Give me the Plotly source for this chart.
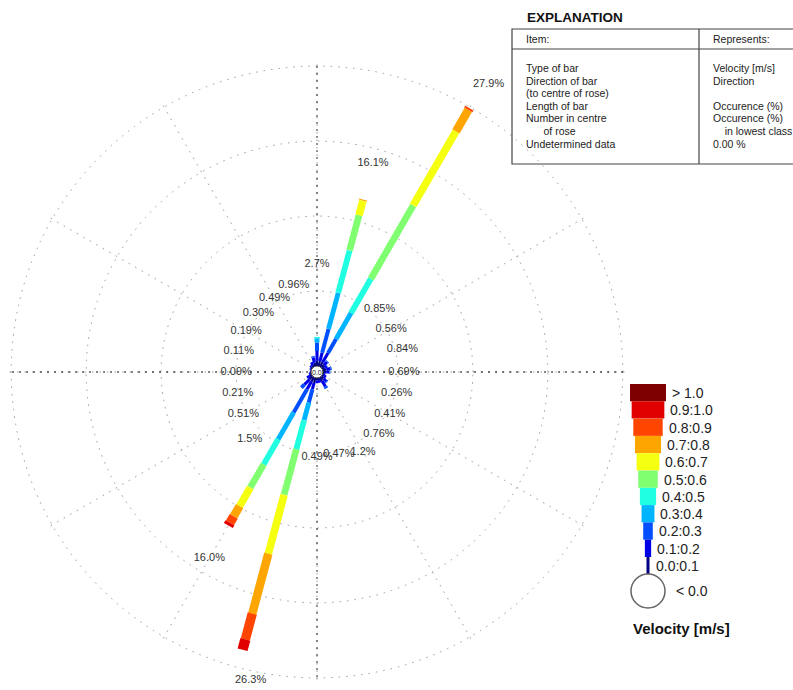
import math
import plotly.graph_objects as go

# Page size; all positions below are in page pixels, converted by px()/py()
W, H = 793, 690

# Rose geometry (page pixels)
CX, CY = 317, 372
HOLE_PX = 6
R_MAX = 28.3
R = 309

# Directions of the bars (degrees, clockwise from north)
directions = list(range(0, 360, 15))

# Total occurrence per direction (%)
totals = [2.7, 16.1, 27.9, 0.85, 0.56, 0.84, 0.69, 0.26, 0.41, 0.76, 1.2, 0.47,
          0.49, 26.3, 16.0, 1.5, 0.51, 0.21, 0.09, 0.11, 0.19, 0.30, 0.49, 0.96]

# Occurrence (%) per velocity class and direction
v_00_01 = [0.5, 0.5, 0.5, 0.35, 0.25, 0.35, 0.3, 0.12, 0.2, 0.3, 0.4, 0.22,
           0.2, 0.5, 0.5, 0.4, 0.22, 0.1, 0.05, 0.06, 0.1, 0.15, 0.2, 0.35]
v_01_02 = [0.9, 0.8, 1.0, 0.4, 0.25, 0.39, 0.3, 0.14, 0.21, 0.36, 0.6, 0.25,
           0.29, 0.6, 0.8, 0.7, 0.29, 0.11, 0.04, 0.05, 0.09, 0.15, 0.29, 0.51]
v_02_03 = [0.8, 2.3, 1.5, 0.1, 0.06, 0.1, 0.09, 0, 0, 0.1, 0.2, 0,
           0, 1.3, 2.5, 0.4, 0, 0, 0, 0, 0, 0, 0, 0.1]
v_03_04 = [0.4, 3.5, 2.8, 0, 0, 0, 0, 0, 0, 0, 0, 0,
           0, 1.7, 2.9, 0, 0, 0, 0, 0, 0, 0, 0, 0]
v_04_05 = [0.1, 4.1, 3.7, 0, 0, 0, 0, 0, 0, 0, 0, 0,
           0, 2.8, 2.7, 0, 0, 0, 0, 0, 0, 0, 0, 0]
v_05_06 = [0, 3.4, 7.9, 0, 0, 0, 0, 0, 0, 0, 0, 0,
           0, 4.4, 2.5, 0, 0, 0, 0, 0, 0, 0, 0, 0]
v_06_07 = [0, 1.4, 8.0, 0, 0, 0, 0, 0, 0, 0, 0, 0,
           0, 5.7, 2.0, 0, 0, 0, 0, 0, 0, 0, 0, 0]
v_07_08 = [0, 0.1, 2.3, 0, 0, 0, 0, 0, 0, 0, 0, 0,
           0, 5.8, 1.1, 0, 0, 0, 0, 0, 0, 0, 0, 0]
v_08_09 = [0, 0, 0.2, 0, 0, 0, 0, 0, 0, 0, 0, 0,
           0, 2.5, 0.7, 0, 0, 0, 0, 0, 0, 0, 0, 0]
v_09_10 = [0, 0, 0, 0, 0, 0, 0, 0, 0, 0, 0, 0,
           0, 1.0, 0.3, 0, 0, 0, 0, 0, 0, 0, 0, 0]
v_10_up = [0, 0, 0, 0, 0, 0, 0, 0, 0, 0, 0, 0,
           0, 0, 0, 0, 0, 0, 0, 0, 0, 0, 0, 0]

classes = [v_00_01, v_01_02, v_02_03, v_03_04, v_04_05, v_05_06,
           v_06_07, v_07_08, v_08_09, v_09_10, v_10_up]
class_labels = ['0.0:0.1', '0.1:0.2', '0.2:0.3', '0.3:0.4', '0.4:0.5', '0.5:0.6',
                '0.6:0.7', '0.7:0.8', '0.8:0.9', '0.9:1.0', '> 1.0']
class_colors = ['#000080', '#0000E6', '#0050FF', '#00B4FF', '#20FFE0', '#80FF70',
                '#F5FF10', '#FFA500', '#FF4500', '#E00000', '#7F0000']

# Explanation table text
expl_items = ['Type of bar', 'Direction of bar', '(to centre of rose)', 'Length of bar',
              'Number in centre', '      of rose', 'Undetermined data']
expl_repr = ['Velocity [m/s]', 'Direction', '', 'Occurence (%)',
             'Occurence (%)', '    in lowest class', '0.00 %']


def px(x):
    return x / W


def py(y):
    return 1 - y / H


def nb(s):
    # keep leading spaces (indent) in annotations
    stripped = s.lstrip(' ')
    return '&nbsp;' * (len(s) - len(stripped)) + stripped


fig = go.Figure()

# Dark N-S and E-W axes
for a in (0, 90):
    fig.add_trace(go.Scatterpolar(
        r=[28, 28], theta=[a, a + 180], mode='lines',
        line=dict(color='#222', width=1.3, dash='1.5px,5.5px'),
        hoverinfo='skip'
    ))

# Stacked bar segments, one trace per velocity class
cum = [0.0] * len(directions)
for i, vals in enumerate(classes):
    rr, tt = [], []
    for j, d in enumerate(directions):
        if vals[j] > 0:
            rr += [cum[j], cum[j] + vals[j], None]
            tt += [d, d, None]
        cum[j] += vals[j]
    if rr:
        fig.add_trace(go.Scatterpolar(
            r=rr, theta=tt, mode='lines',
            line=dict(color=class_colors[i], width=2.2 + 0.9 * i),
            hoverinfo='skip'
        ))

# Percentage labels (inside the rose: polar text; beyond the outer ring: annotations)
lab_r = [t + 3.55 if t > 5 else 6.9 + 0.95 * t for t in totals]
lab_txt = ['{:.1f}%'.format(t) if t >= 1 else '{:.2f}%'.format(t) for t in totals]
lab_font = dict(family='Liberation Sans, Arial', size=11, color='#333')
inside = [k for k, r in enumerate(lab_r) if r <= R_MAX]
fig.add_trace(go.Scatterpolar(
    r=[lab_r[k] for k in inside], theta=[directions[k] for k in inside],
    text=[lab_txt[k] for k in inside], mode='text',
    textfont=lab_font, cliponaxis=False, hoverinfo='skip'
))

shapes = []
annotations = []

scale = (R - HOLE_PX) / R_MAX
for k, r in enumerate(lab_r):
    if r > R_MAX:
        rp = HOLE_PX + r * scale
        a = math.radians(directions[k])
        annotations.append(dict(x=px(CX + rp * math.sin(a)), y=py(CY - rp * math.cos(a)),
                                xref='paper', yref='paper', text=lab_txt[k],
                                showarrow=False, font=lab_font))

# Centre circle
shapes.append(dict(type='circle', xref='paper', yref='paper',
                   x0=px(CX - 6), x1=px(CX + 6), y0=py(CY + 6), y1=py(CY - 6),
                   line=dict(color='#333', width=1), fillcolor='white'))
annotations.append(dict(x=px(CX), y=py(CY), xref='paper', yref='paper', text='0.0',
                        showarrow=False, font=dict(size=7, color='#222')))

# Explanation box
bl = dict(color='#444', width=1.2)
shapes.append(dict(type='rect', xref='paper', yref='paper',
                   x0=px(512), x1=px(800), y0=py(164), y1=py(29), line=bl))
shapes.append(dict(type='line', xref='paper', yref='paper',
                   x0=px(512), x1=px(800), y0=py(49), y1=py(49), line=bl))
shapes.append(dict(type='line', xref='paper', yref='paper',
                   x0=px(699), x1=px(699), y0=py(29), y1=py(164), line=bl))
fnt = dict(family='Liberation Sans, Arial', size=10.5, color='#222')
annotations.append(dict(x=px(525), y=py(17), xref='paper', yref='paper', text='<b>EXPLANATION</b>',
                        showarrow=False, xanchor='left', yanchor='middle',
                        font=dict(family='Liberation Sans, Arial', size=13.5, color='#111')))
annotations.append(dict(x=px(524), y=py(39), xref='paper', yref='paper', text='Item:',
                        showarrow=False, xanchor='left', yanchor='middle', font=fnt))
annotations.append(dict(x=px(711), y=py(39), xref='paper', yref='paper', text='Represents:',
                        showarrow=False, xanchor='left', yanchor='middle', font=fnt))
for k, (a, b) in enumerate(zip(expl_items, expl_repr)):
    yy = 68 + k * 12.6
    annotations.append(dict(x=px(524), y=py(yy), xref='paper', yref='paper', text=nb(a),
                            showarrow=False, xanchor='left', yanchor='middle', font=fnt))
    if b:
        annotations.append(dict(x=px(711), y=py(yy), xref='paper', yref='paper', text=nb(b),
                                showarrow=False, xanchor='left', yanchor='middle', font=fnt))

# Velocity legend (widest box on top)
lfnt = dict(family='Liberation Sans, Arial', size=14, color='#222')
n = len(class_labels)
for k in range(n):
    i = n - 1 - k
    w = 36 - 3.3 * k
    y0 = 384 + k * 17.3
    shapes.append(dict(type='rect', xref='paper', yref='paper',
                       x0=px(648 - w / 2), x1=px(648 + w / 2), y0=py(y0 + 17.3), y1=py(y0),
                       line=dict(width=0), fillcolor=class_colors[i]))
    annotations.append(dict(x=px(648 + w / 2 + 4), y=py(y0 + 9), xref='paper', yref='paper',
                            text=class_labels[i], showarrow=False, xanchor='left',
                            yanchor='middle', font=lfnt))
shapes.append(dict(type='circle', xref='paper', yref='paper',
                   x0=px(631), x1=px(665), y0=py(608), y1=py(574),
                   line=dict(color='#666', width=1.5), fillcolor='white'))
annotations.append(dict(x=px(674), y=py(591), xref='paper', yref='paper', text='< 0.0',
                        showarrow=False, xanchor='left', yanchor='middle', font=lfnt))
annotations.append(dict(x=px(631), y=py(628), xref='paper', yref='paper',
                        text='<b>Velocity [m/s]</b>', showarrow=False, xanchor='left',
                        yanchor='middle', font=dict(family='Liberation Sans, Arial', size=15,
                                                    color='#111')))

fig.update_layout(
    width=W, height=H,
    margin=dict(l=0, r=0, t=0, b=0),
    paper_bgcolor='white',
    showlegend=False,
    shapes=shapes,
    annotations=annotations,
    polar=dict(
        domain=dict(x=[px(CX - R), px(CX + R)], y=[py(CY + R), py(CY - R)]),
        hole=HOLE_PX / R,
        bgcolor='white',
        radialaxis=dict(range=[0, R_MAX], tickvals=[7, 14, 21, 28], showticklabels=False,
                        ticks='', showline=False, gridcolor='#999', gridwidth=1.2,
                        griddash='1.5px,6px'),
        angularaxis=dict(direction='clockwise', rotation=90, tickmode='linear', tick0=0,
                         dtick=30, showticklabels=False, ticks='', showline=False,
                         gridcolor='#999', gridwidth=1.2, griddash='1.5px,6px'),
    ),
)

# Remove the browser's default page margin so the figure fills the window
fig.write_html("out.html", config=dict(displayModeBar=False),
               post_script="document.body.style.margin='0';document.body.style.overflow='hidden';")
